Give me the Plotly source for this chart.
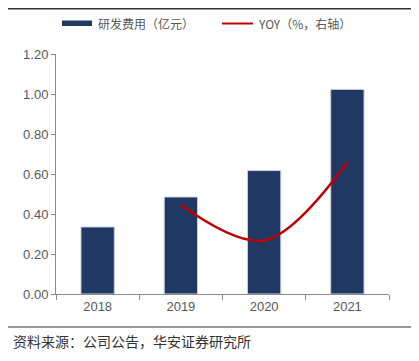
import plotly.graph_objects as go

years = ["2018", "2019", "2020", "2021"]
rd_expense = [0.335, 0.485, 0.617, 1.023]
yoy_years = ["2019", "2020", "2021"]
yoy = [0.445, 0.268, 0.66]
y_ticks = [0.0, 0.2, 0.4, 0.6, 0.8, 1.0, 1.2]
y_tick_text = ["0.00", "0.20", "0.40", "0.60", "0.80", "1.00", "1.20"]

OFF = 8  # page body margin
W, H = 411, 353
L, R, T, B = 48, 30, 46, 67
pw, ph = W - L - R, H - T - B

def px(x):
    return (x - OFF - L) / pw

def py(y):
    return (H - B - (y - OFF)) / ph

grey = "#595959"
axis_col = "#8c8c8c"
cjk = "Noto Sans CJK SC"

fig = go.Figure()
fig.add_trace(go.Bar(
    x=years, y=rd_expense, name="研发费用（亿元）",
    marker=dict(color="#1F3864", line=dict(color="#c9cdd6", width=1)),
    width=0.4, showlegend=False,
))
fig.add_trace(go.Scatter(
    x=yoy_years, y=yoy, name="YOY（%，右轴）", yaxis="y2", mode="lines",
    line=dict(color="#C00000", width=2.5, shape="spline", smoothing=1),
    showlegend=False,
))

shapes = [
    dict(type="line", xref="paper", yref="paper", x0=px(OFF), x1=px(OFF + W), y0=py(OFF + 0.75), y1=py(OFF + 0.75),
         line=dict(color="#333333", width=1.5)),
    dict(type="line", xref="paper", yref="paper", x0=px(OFF), x1=px(OFF + W), y0=py(327), y1=py(327),
         line=dict(color="#333333", width=1)),
    dict(type="rect", xref="paper", yref="paper", x0=px(62), x1=px(92), y0=py(26), y1=py(20.5),
         fillcolor="#1F3864", line=dict(width=0)),
    dict(type="line", xref="paper", yref="paper", x0=px(222), x1=px(253), y0=py(23.5), y1=py(23.5),
         line=dict(color="#C00000", width=2)),
]
annotations = [
    dict(xref="paper", yref="paper", x=px(96), y=py(23.5), xanchor="left", yanchor="middle",
         text="研发费用（亿元）", showarrow=False, font=dict(family=cjk, size=12, color=grey)),
    dict(xref="paper", yref="paper", x=px(256), y=py(23.5), xanchor="left", yanchor="middle",
         text="YOY（%，右轴）", showarrow=False, font=dict(family=cjk, size=12, color=grey)),
    dict(xref="paper", yref="paper", x=px(11), y=py(341), xanchor="left", yanchor="middle",
         text="资料来源：公司公告，华安证券研究所", showarrow=False,
         font=dict(family=cjk, size=14, color="#333333")),
]

fig.update_layout(
    width=W, height=H,
    margin=dict(l=L, r=R, t=T, b=B, pad=0),
    paper_bgcolor="white", plot_bgcolor="white",
    bargap=0.6,
    shapes=shapes, annotations=annotations,
    font=dict(family="Liberation Sans, Arial", size=13, color=grey),
    xaxis=dict(
        type="category", showline=True, linecolor=axis_col, linewidth=1,
        ticks="outside", ticklen=5, tickcolor=axis_col, tickson="boundaries",
        showgrid=False, zeroline=False, tickfont=dict(size=13, color=grey),
    ),
    yaxis=dict(
        range=[0, 1.2], tickvals=y_ticks, ticktext=y_tick_text,
        showline=True, linecolor=axis_col, linewidth=1,
        ticks="outside", ticklen=4, tickcolor=axis_col,
        showgrid=False, zeroline=False, tickfont=dict(size=13, color=grey),
    ),
    yaxis2=dict(range=[0, 1.2], overlaying="y", side="right", visible=False),
)

fig.write_html("out.html")
